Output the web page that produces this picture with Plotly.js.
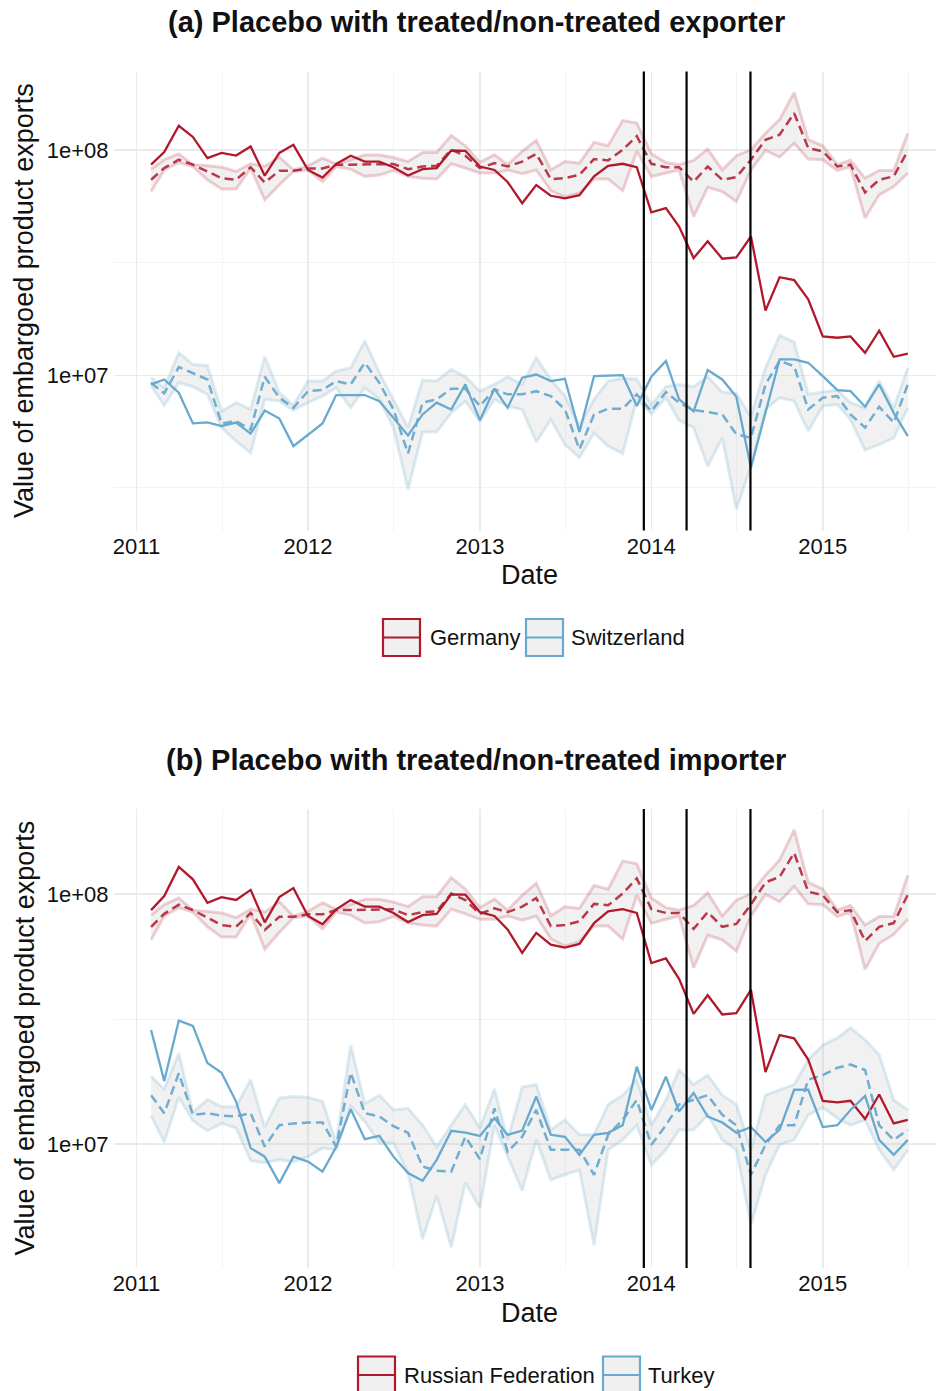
<!DOCTYPE html>
<html>
<head>
<meta charset="utf-8">
<script src="https://cdn.plot.ly/plotly-3.0.1.min.js"></script>
<style>
  html, body { margin: 0; padding: 0; background: #ffffff; }
  #chart { width: 936px; height: 1391px; }
</style>
</head>
<body>
<div id="chart"></div>
<script>
// Monthly value of embargoed product exports (US$), Feb 2011 – Jul 2015.
// "Obs" = observed series, "Syn" = synthetic control, "Lo"/"Hi" = placebo band.

// Panel (a): exporters
const deuObs = [86.3e6, 98.2e6, 128.5e6, 114.6e6, 92.3e6, 97.3e6, 94.8e6, 104.0e6, 77.1e6, 97.3e6,
  105.7e6, 81.8e6, 75.7e6, 86.9e6, 94.6e6, 89.1e6, 89.1e6, 84.1e6, 77.3e6, 82.4e6,
  83.4e6, 99.8e6, 99.5e6, 84.7e6, 81.8e6, 72.3e6, 58.2e6, 70.0e6, 62.8e6, 61.1e6,
  63.2e6, 76.6e6, 85.3e6, 87.1e6, 84.1e6, 53.0e6, 55.3e6, 45.8e6, 33.2e6, 39.4e6,
  33.0e6, 33.4e6, 41.4e6, 19.4e6, 27.3e6, 26.5e6, 21.8e6, 14.9e6, 14.7e6, 14.9e6,
  12.6e6, 15.8e6, 12.1e6, 12.5e6];
const deuSyn = [74.0e6, 83.4e6, 90.8e6, 86.3e6, 80.5e6, 75.2e6, 74.0e6, 84.1e6, 71.9e6, 81.1e6,
  81.1e6, 83.0e6, 83.0e6, 86.3e6, 86.3e6, 86.3e6, 86.3e6, 86.9e6, 82.4e6, 84.7e6,
  85.3e6, 100.5e6, 94.6e6, 83.4e6, 87.7e6, 84.7e6, 89.1e6, 96.4e6, 74.5e6, 75.2e6,
  77.8e6, 91.4e6, 90.2e6, 100.5e6, 115.6e6, 87.1e6, 84.1e6, 84.1e6, 72.6e6, 84.7e6,
  74.0e6, 76.0e6, 90.8e6, 111.4e6, 117.2e6, 146.2e6, 102.3e6, 98.9e6, 84.7e6, 86.3e6,
  64.9e6, 74.0e6, 76.6e6, 99.5e6];
const deuHi = [82.4e6, 90.8e6, 96.4e6, 86.3e6, 85.3e6, 84.1e6, 80.5e6, 87.1e6, 84.7e6, 93.3e6,
  81.8e6, 85.3e6, 92.3e6, 86.9e6, 90.8e6, 95.3e6, 95.3e6, 92.9e6, 89.1e6, 97.7e6,
  97.7e6, 116.4e6, 104.7e6, 88.3e6, 95.5e6, 86.3e6, 98.9e6, 110.7e6, 81.8e6, 89.1e6,
  87.7e6, 108.4e6, 104.7e6, 135.5e6, 132.1e6, 96.6e6, 88.3e6, 86.3e6, 90.2e6, 101.2e6,
  81.8e6, 94.6e6, 100.5e6, 119.1e6, 136.8e6, 180.7e6, 111.4e6, 104.7e6, 86.3e6, 90.2e6,
  75.2e6, 81.3e6, 81.3e6, 119.1e6];
const deuLo = [65.6e6, 81.8e6, 88.3e6, 84.7e6, 74.0e6, 67.3e6, 67.3e6, 83.4e6, 60.3e6, 70.3e6,
  80.5e6, 81.8e6, 72.6e6, 84.7e6, 82.4e6, 76.6e6, 77.6e6, 81.5e6, 76.6e6, 75.2e6,
  74.5e6, 87.1e6, 83.4e6, 79.3e6, 79.3e6, 81.8e6, 78.7e6, 81.8e6, 66.2e6, 61.9e6,
  64.6e6, 74.5e6, 74.5e6, 66.2e6, 98.9e6, 76.4e6, 79.3e6, 81.8e6, 50.8e6, 68.5e6,
  65.6e6, 59.2e6, 81.8e6, 99.8e6, 93.3e6, 107.6e6, 91.4e6, 90.8e6, 81.3e6, 84.7e6,
  50.0e6, 63.4e6, 69.0e6, 79.3e6];

const cheObs = [9.12e6, 9.59e6, 8.38e6, 6.12e6, 6.19e6, 5.96e6, 6.17e6, 5.51e6, 6.98e6, 6.43e6,
  4.85e6, 5.47e6, 6.12e6, 8.18e6, 8.18e6, 8.18e6, 7.69e6, 6.49e6, 5.41e6, 6.71e6,
  7.57e6, 7.06e6, 9.12e6, 6.32e6, 8.73e6, 7.18e6, 9.77e6, 10.09e6, 9.44e6, 9.66e6,
  5.60e6, 9.93e6, 10.0e6, 10.02e6, 7.31e6, 9.86e6, 11.59e6, 7.82e6, 6.93e6, 10.57e6,
  9.59e6, 8.04e6, 3.89e6, 6.82e6, 11.78e6, 11.78e6, 11.38e6, 9.93e6, 8.61e6, 8.51e6,
  7.26e6, 9.12e6, 6.82e6, 5.37e6];
const cheSyn = [9.27e6, 8.32e6, 10.89e6, 10.21e6, 9.59e6, 6.12e6, 6.27e6, 5.75e6, 9.86e6, 7.96e6,
  7.18e6, 8.51e6, 8.61e6, 9.44e6, 9.12e6, 11.38e6, 9.27e6, 7.06e6, 4.50e6, 7.57e6,
  7.82e6, 8.73e6, 8.73e6, 7.31e6, 8.67e6, 8.24e6, 8.24e6, 8.51e6, 8.09e6, 7.06e6,
  4.69e6, 6.71e6, 7.11e6, 7.11e6, 8.24e6, 6.93e6, 8.43e6, 7.57e6, 7.01e6, 6.87e6,
  6.71e6, 5.47e6, 5.28e6, 9.12e6, 11.59e6, 10.99e6, 7.06e6, 7.96e6, 8.09e6, 6.71e6,
  5.86e6, 7.26e6, 6.17e6, 9.12e6];
const cheHi = [9.77e6, 8.81e6, 12.62e6, 11.19e6, 11.07e6, 6.93e6, 7.57e6, 7.06e6, 12.11e6, 8.38e6,
  7.36e6, 9.44e6, 9.44e6, 10.45e6, 10.81e6, 14.22e6, 10.28e6, 7.82e6, 5.86e6, 9.53e6,
  9.44e6, 10.64e6, 9.86e6, 8.51e6, 9.12e6, 9.86e6, 9.12e6, 11.99e6, 9.59e6, 8.09e6,
  5.96e6, 7.82e6, 9.44e6, 9.70e6, 9.64e6, 7.40e6, 8.91e6, 9.12e6, 8.91e6, 9.86e6,
  8.43e6, 8.32e6, 6.55e6, 10.81e6, 15.07e6, 14.06e6, 8.24e6, 8.43e6, 8.61e6, 7.57e6,
  7.18e6, 9.44e6, 7.18e6, 10.81e6];
const cheLo = [8.97e6, 7.36e6, 9.27e6, 8.91e6, 8.24e6, 5.86e6, 5.11e6, 4.53e6, 7.82e6, 7.69e6,
  7.00e6, 7.57e6, 8.09e6, 8.81e6, 7.18e6, 8.81e6, 7.82e6, 5.85e6, 3.11e6, 5.60e6,
  5.60e6, 6.82e6, 7.69e6, 6.27e6, 7.82e6, 7.31e6, 7.06e6, 5.06e6, 6.37e6, 4.93e6,
  4.31e6, 5.56e6, 4.85e6, 4.50e6, 7.82e6, 6.75e6, 7.96e6, 6.32e6, 5.86e6, 3.95e6,
  5.28e6, 2.54e6, 3.95e6, 7.06e6, 7.96e6, 7.69e6, 5.66e6, 7.31e6, 7.43e6, 6.37e6,
  4.66e6, 4.93e6, 5.28e6, 7.18e6];

// Panel (b): importers. The Russian series is the same flow as the German one above.
const rusObs = deuObs, rusSyn = deuSyn, rusHi = deuHi, rusLo = deuLo;

const turObs = [28.6e6, 17.9e6, 31.2e6, 29.7e6, 21.1e6, 19.3e6, 14.8e6, 9.64e6, 8.91e6, 6.98e6,
  8.91e6, 8.51e6, 7.76e6, 9.73e6, 13.8e6, 10.47e6, 10.79e6, 8.91e6, 7.66e6, 7.13e6,
  8.65e6, 11.30e6, 11.12e6, 10.79e6, 12.71e6, 10.89e6, 11.32e6, 15.5e6, 10.9e6, 10.7e6,
  9.06e6, 10.9e6, 11.1e6, 11.9e6, 20.4e6, 13.7e6, 18.6e6, 13.5e6, 16.0e6, 12.9e6,
  12.2e6, 11.1e6, 11.7e6, 10.2e6, 11.4e6, 16.5e6, 16.5e6, 11.7e6, 11.9e6, 13.7e6,
  15.6e6, 10.4e6, 9.06e6, 10.4e6];
const turSyn = [15.7e6, 13.3e6, 19.2e6, 13.1e6, 13.3e6, 13.0e6, 12.9e6, 13.3e6, 9.77e6, 11.9e6,
  12.1e6, 12.2e6, 12.2e6, 9.77e6, 19.3e6, 13.3e6, 12.9e6, 11.8e6, 11.1e6, 8.13e6,
  7.83e6, 7.76e6, 10.7e6, 8.71e6, 13.9e6, 9.33e6, 10.7e6, 13.7e6, 9.49e6, 9.49e6,
  9.49e6, 7.54e6, 10.9e6, 12.5e6, 15.0e6, 9.94e6, 11.9e6, 14.4e6, 15.0e6, 15.7e6,
  13.1e6, 11.9e6, 7.54e6, 9.94e6, 11.9e6, 11.9e6, 18.1e6, 18.9e6, 20.2e6, 20.8e6,
  19.8e6, 11.9e6, 10.4e6, 11.4e6];
const turHi = [18.7e6, 16.6e6, 23.1e6, 13.4e6, 15.1e6, 14.1e6, 14.1e6, 18.1e6, 11.7e6, 15.3e6,
  15.5e6, 15.4e6, 14.8e6, 10.1e6, 24.9e6, 14.5e6, 15.7e6, 13.7e6, 13.9e6, 11.9e6,
  9.77e6, 11.9e6, 14.4e6, 11.6e6, 16.6e6, 10.4e6, 16.9e6, 17.3e6, 11.4e6, 12.5e6,
  10.9e6, 10.9e6, 14.4e6, 15.7e6, 18.1e6, 11.9e6, 15.0e6, 19.8e6, 17.3e6, 18.9e6,
  15.7e6, 14.4e6, 9.49e6, 15.7e6, 16.5e6, 17.3e6, 21.7e6, 24.9e6, 26.6e6, 29.2e6,
  26.1e6, 22.8e6, 15.0e6, 13.7e6];
const turLo = [13.0e6, 10.2e6, 15.4e6, 12.4e6, 11.3e6, 12.1e6, 11.6e6, 8.59e6, 8.43e6, 8.65e6,
  8.51e6, 8.91e6, 9.64e6, 9.49e6, 14.2e6, 12.3e6, 10.1e6, 10.1e6, 7.66e6, 4.17e6,
  6.21e6, 3.87e6, 7.01e6, 5.55e6, 11.9e6, 8.91e6, 6.52e6, 10.4e6, 7.20e6, 7.54e6,
  7.89e6, 3.95e6, 9.49e6, 10.4e6, 11.9e6, 8.26e6, 9.49e6, 11.4e6, 11.4e6, 13.1e6,
  10.4e6, 9.49e6, 4.75e6, 7.54e6, 9.94e6, 10.4e6, 13.1e6, 14.0e6, 12.7e6, 11.9e6,
  12.5e6, 9.49e6, 7.89e6, 9.49e6];

// Sanction / embargo event dates
const eventDates = ['2013-12-16', '2014-03-17', '2014-07-31'];

// Axis ticks
const yearTicks = ['2011-01-01', '2012-01-01', '2013-01-01', '2014-01-01', '2015-01-01'];
const yearLabels = ['2011', '2012', '2013', '2014', '2015'];
const midYearTicks = ['2011-07-02', '2012-07-02', '2013-07-02', '2014-07-02', '2015-07-02'];
const valueTicks = [1e7, 1e8];
const valueLabels = ['1e+07', '1e+08'];
const valueMinor = [3162278, 31622777];

// Month stamps, first day of each month
const months = [];
for (let y = 2011, m = 2; y < 2015 || (y === 2015 && m <= 7); m++) {
  if (m > 12) { m = 1; y++; }
  if (y === 2015 && m > 7) break;
  months.push(y + '-' + String(m).padStart(2, '0') + '-01');
}

const W = 936, H = 1391;
const fx = x => x / W;
const fy = y => 1 - y / H;
const FONT = 'Liberation Sans, Arial, Helvetica, sans-serif';

const RED = '#B2182B', BLUE = '#67A9CF';
const bandLine = { [RED]: 'rgba(178,24,43,0.2)', [BLUE]: 'rgba(103,169,207,0.22)' };
const dashCol = { [RED]: 'rgba(178,24,43,0.85)', [BLUE]: 'rgba(103,169,207,0.95)' };
const BAND_FILL = 'rgba(190,190,190,0.22)';

function bandTraces(lo, hi, color, xa, ya) {
  return [
    { x: months, y: lo, xaxis: xa, yaxis: ya, mode: 'lines', hoverinfo: 'skip', showlegend: false,
      line: { color: bandLine[color], width: 3 } },
    { x: months, y: hi, xaxis: xa, yaxis: ya, mode: 'lines', hoverinfo: 'skip', showlegend: false,
      fill: 'tonexty', fillcolor: BAND_FILL, line: { color: bandLine[color], width: 3 } }
  ];
}
function synTrace(v, color, xa, ya) {
  return { x: months, y: v, xaxis: xa, yaxis: ya, mode: 'lines', hoverinfo: 'skip', showlegend: false,
    line: { color: dashCol[color], width: 2.5, dash: '9px,5px' } };
}
function obsTrace(v, color, xa, ya) {
  return { x: months, y: v, xaxis: xa, yaxis: ya, mode: 'lines', hoverinfo: 'skip', showlegend: false,
    line: { color: color, width: 2.3 } };
}

const data = [
  ...bandTraces(deuLo, deuHi, RED, 'x', 'y'),
  ...bandTraces(cheLo, cheHi, BLUE, 'x', 'y'),
  synTrace(deuSyn, RED, 'x', 'y'),
  synTrace(cheSyn, BLUE, 'x', 'y'),
  obsTrace(deuObs, RED, 'x', 'y'),
  obsTrace(cheObs, BLUE, 'x', 'y'),

  ...bandTraces(rusLo, rusHi, RED, 'x2', 'y2'),
  ...bandTraces(turLo, turHi, BLUE, 'x2', 'y2'),
  synTrace(rusSyn, RED, 'x2', 'y2'),
  synTrace(turSyn, BLUE, 'x2', 'y2'),
  obsTrace(rusObs, RED, 'x2', 'y2'),
  obsTrace(turObs, BLUE, 'x2', 'y2')
];

// Panel geometry in page pixels
const PLOT_LEFT = 113.5;
const panels = [
  { top: 71.5, bottom: 530.5, yrange: [6.311, 8.350], xa: 'x', ya: 'y',
    title: '(a) Placebo with treated/non-treated exporter',
    legend: [{ name: 'Germany', color: RED, box: 383, text: 428 }, { name: 'Switzerland', color: BLUE, box: 526, text: 569 }] },
  { top: 809, bottom: 1268, yrange: [6.5045, 8.3405], xa: 'x2', ya: 'y2',
    title: '(b) Placebo with treated/non-treated importer',
    legend: [{ name: 'Russian Federation', color: RED, box: 358, text: 402 }, { name: 'Turkey', color: BLUE, box: 603, text: 646 }] }
];

function xAxis(anchor) {
  return {
    type: 'date', anchor: anchor, domain: [fx(PLOT_LEFT), 1],
    range: ['2010-11-13', '2015-08-30'],
    tickmode: 'array', tickvals: yearTicks, ticktext: yearLabels,
    ticks: '', showline: false, zeroline: false,
    showgrid: true, gridcolor: '#EBEBEB', gridwidth: 1.6,
    minor: { tickmode: 'array', tickvals: midYearTicks, showgrid: true, gridcolor: '#F3F3F3', gridwidth: 1, ticks: '' },
    tickfont: { family: FONT, size: 22, color: '#111111' },
    fixedrange: true
  };
}
function yAxis(anchor, p) {
  return {
    type: 'log', anchor: anchor, domain: [fy(p.bottom), fy(p.top)], range: p.yrange,
    tickmode: 'array', tickvals: valueTicks, ticktext: valueLabels,
    ticks: '', showline: false, zeroline: false,
    showgrid: true, gridcolor: '#EBEBEB', gridwidth: 1.6,
    minor: { tickmode: 'array', tickvals: valueMinor, showgrid: true, gridcolor: '#F3F3F3', gridwidth: 1, ticks: '' },
    tickfont: { family: FONT, size: 22, color: '#111111' },
    ticklabelstandoff: 4,
    fixedrange: true
  };
}

const shapes = [];
const annotations = [];
const offset = 737.5;

panels.forEach((p, k) => {
  const dy = k * offset;
  // event lines
  eventDates.forEach(d => shapes.push({
    type: 'line', xref: p.xa, yref: p.ya + ' domain', x0: d, x1: d, y0: 0, y1: 1,
    line: { color: '#000000', width: 2.2 }, layer: 'above'
  }));
  // panel title
  annotations.push({
    xref: 'paper', yref: 'paper', x: fx(476), y: fy(22 + dy), xanchor: 'center', yanchor: 'middle',
    text: '<b>' + p.title + '</b>', showarrow: false,
    font: { family: FONT, size: 29, color: '#111111' }
  });
  // axis titles
  annotations.push({
    xref: 'paper', yref: 'paper', x: fx(529.5), y: fy(575 + dy), xanchor: 'center', yanchor: 'middle',
    text: 'Date', showarrow: false, font: { family: FONT, size: 27, color: '#111111' }
  });
  annotations.push({
    xref: 'paper', yref: 'paper', x: fx(24), y: fy(301 + dy), xanchor: 'center', yanchor: 'middle',
    text: 'Value of embargoed product exports', textangle: -90, showarrow: false,
    font: { family: FONT, size: 27, color: '#111111' }
  });
  // legend keys
  const ly0 = 619 + dy, ly1 = 656 + dy, lyc = (ly0 + ly1) / 2;
  p.legend.forEach(item => {
    shapes.push({
      type: 'rect', xref: 'paper', yref: 'paper',
      x0: fx(item.box), x1: fx(item.box + 37), y0: fy(ly1), y1: fy(ly0),
      fillcolor: '#F0F0F0', line: { color: item.color, width: 2.2 }
    });
    shapes.push({
      type: 'line', xref: 'paper', yref: 'paper',
      x0: fx(item.box + 1), x1: fx(item.box + 36), y0: fy(lyc), y1: fy(lyc),
      line: { color: item.color, width: 2.2 }
    });
    annotations.push({
      xref: 'paper', yref: 'paper', x: fx(item.text), y: fy(lyc), xanchor: 'left', yanchor: 'middle',
      text: item.name, showarrow: false, font: { family: FONT, size: 22, color: '#111111' }
    });
  });
});

const layout = {
  width: W, height: H,
  margin: { l: 0, r: 0, t: 0, b: 0, pad: 0 },
  paper_bgcolor: '#ffffff', plot_bgcolor: '#ffffff',
  showlegend: false,
  xaxis: xAxis('y'), yaxis: yAxis('x', panels[0]),
  xaxis2: xAxis('y2'), yaxis2: yAxis('x2', panels[1]),
  shapes: shapes, annotations: annotations,
  font: { family: FONT }
};

Plotly.newPlot('chart', data, layout, { staticPlot: true, displayModeBar: false });
</script>
</body>
</html>
